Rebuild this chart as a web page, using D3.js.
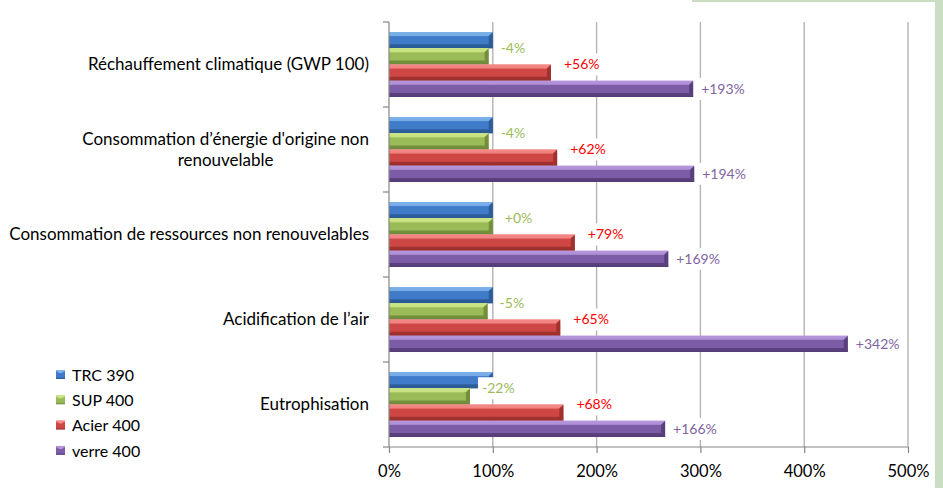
<!DOCTYPE html>
<html><head><meta charset="utf-8">
<script src="https://cdn.jsdelivr.net/npm/d3@7"></script>
<style>
html,body{margin:0;padding:0;background:#fff;}
svg{display:block;font-family:Lato,"Noto Sans",sans-serif;}
</style></head>
<body>
<svg id="chart" width="943" height="488"></svg>
<script>
const categories = [
  ["Réchauffement climatique (GWP 100)"],
  ["Consommation d’énergie d'origine non", "renouvelable"],
  ["Consommation de ressources non renouvelables"],
  ["Acidification de l’air"],
  ["Eutrophisation"]
];
const seriesNames = ["TRC 390", "SUP 400", "Acier 400", "verre 400"];
const trc390 = [100, 100, 100, 100, 100];
const sup400 = [96, 96, 100, 95, 78];
const acier400 = [156, 162, 179, 165, 168];
const verre400 = [293, 294, 269, 442, 266];
const tickValues = [0, 100, 200, 300, 400, 500];

const seriesValues = [trc390, sup400, acier400, verre400];
const palette = [
  {base:"#3f7bc8", light:"#7db2ea", dark:"#2a5a95", label:null},
  {base:"#9bbb59", light:"#cbe584", dark:"#6f8a38", label:"#9bbb59"},
  {base:"#cf4744", light:"#f48886", dark:"#9a2f2d", label:"#ff0000"},
  {base:"#7c5ca6", light:"#b596dc", dark:"#553d78", label:"#8064a2"}
];

const svg = d3.select("#chart");
const W = 943, H = 488;
const m = {left:389, right:908, top:22, bottom:447};

// green frame
svg.append("rect").attr("x",692).attr("y",0).attr("width",W-692).attr("height",2).attr("fill","#cadec3");
svg.append("rect").attr("x",935).attr("y",0).attr("width",8).attr("height",H).attr("fill","#cadec3");

const x = d3.scaleLinear().domain([0,500]).range([m.left, m.right]);
const y = d3.scaleBand().domain(d3.range(categories.length)).range([m.top, m.bottom])
  .paddingInner(0.235).paddingOuter(0.1175);
const ys = d3.scaleBand().domain(d3.range(seriesNames.length)).range([0, y.bandwidth()]);

// gradients
const defs = svg.append("defs");
palette.forEach((p,i)=>{
  const g = defs.append("linearGradient").attr("id","g"+i).attr("x1",0).attr("y1",0).attr("x2",0).attr("y2",1);
  g.append("stop").attr("offset","0%").attr("stop-color",p.light);
  g.append("stop").attr("offset","30%").attr("stop-color",p.base);
  g.append("stop").attr("offset","75%").attr("stop-color",p.base);
  g.append("stop").attr("offset","100%").attr("stop-color",p.dark);
});

// gridlines
svg.append("g").selectAll("line").data(tickValues.filter(t=>t>0)).join("line")
  .attr("x1",d=>x(d)).attr("x2",d=>x(d)).attr("y1",m.top).attr("y2",m.bottom)
  .attr("stroke","#b4b4b4").attr("stroke-width",1.4);

// bars
function bevelBar(g, x0, x1, y0, y1, p, i){
  const b = Math.min(4, (x1-x0)/2);
  g.append("rect").attr("x",x0).attr("y",y0).attr("width",x1-x0).attr("height",y1-y0).attr("fill","url(#g"+i+")");
  g.append("path").attr("d",`M${x0},${y0}L${x1},${y0}L${x1-b},${y0+b}L${x0},${y0+b}Z`).attr("fill",p.light).attr("opacity",0.85);
  g.append("path").attr("d",`M${x0},${y1}L${x1},${y1}L${x1-b},${y1-b}L${x0},${y1-b}Z`).attr("fill",p.dark).attr("opacity",0.85);
  g.append("path").attr("d",`M${x1},${y0}L${x1},${y1}L${x1-b},${y1-b}L${x1-b},${y0+b}Z`).attr("fill",p.dark).attr("opacity",0.9);
}
const barsG = svg.append("g");
categories.forEach((c,ci)=>{
  seriesValues.forEach((vals,si)=>{
    const y0 = y(ci)+ys(si), y1 = y0+ys.bandwidth();
    bevelBar(barsG, x(0), x(vals[ci]), y0, y1, palette[si], si);
  });
});

// axes
const axisColor = "#868686";
svg.append("line").attr("x1",m.left).attr("x2",m.left).attr("y1",m.top).attr("y2",m.bottom).attr("stroke",axisColor).attr("stroke-width",1.2);
svg.append("line").attr("x1",m.left).attr("x2",m.right).attr("y1",m.bottom).attr("y2",m.bottom).attr("stroke",axisColor).attr("stroke-width",1.2);
const catEdges = d3.range(categories.length+1).map(i=>m.top + i*y.step());
svg.append("g").selectAll("line").data(catEdges).join("line")
  .attr("x1",m.left-6).attr("x2",m.left).attr("y1",d=>d).attr("y2",d=>d).attr("stroke",axisColor).attr("stroke-width",1.2);
const xAxis = d3.axisBottom(x).tickValues(tickValues).tickFormat(d=>d+"%").tickSize(6).tickPadding(12);
const xa = svg.append("g").attr("transform",`translate(0,${m.bottom})`).call(xAxis);
xa.select(".domain").remove();
xa.selectAll(".tick line").attr("stroke",axisColor).attr("stroke-width",1.2);
xa.selectAll(".tick text").attr("fill","#000").style("font-size","16.5px").style("font-family","Lato");

// category labels
const catG = svg.append("g");
categories.forEach((lines,ci)=>{
  const cy = y(ci)+y.bandwidth()/2;
  const lh = 21;
  const tg = catG.append("g");
  const texts = lines.map((l,li)=> tg.append("text").text(l)
    .attr("y", cy + (li-(lines.length-1)/2)*lh).attr("dy","0.35em")
    .style("font-size","17px").attr("fill","#000"));
  const maxW = d3.max(texts, t=>t.node().getComputedTextLength());
  const cx = 369 - maxW/2;
  texts.forEach(t=>t.attr("x",cx).attr("text-anchor","middle"));
});

// data labels
const labelG = svg.append("g");
const lblDx = [0, 12, 13, 8];
const lblDy = [0, 0, 0, 0.5];
categories.forEach((c,ci)=>{
  [1,2,3].forEach(si=>{
    const v = seriesValues[si][ci];
    const d = v-100;
    const txt = (d>=0?"+":"-")+Math.abs(d)+"%";
    const y0 = y(ci)+ys(si);
    const ly = y0 + lblDy[si]*ys.bandwidth();
    const lx = x(v)+lblDx[si];
    const g = labelG.append("g");
    const bg = g.append("rect").attr("fill","#fff");
    const t = g.append("text").text(txt).attr("x",lx).attr("y",ly).attr("dy","0.35em")
      .style("font-size","14px").attr("fill",palette[si].label);
    const w = t.node().getComputedTextLength();
    bg.attr("x",lx-4).attr("y",ly-11).attr("width",w+8).attr("height",22);
  });
});

// legend
const lg = svg.append("g");
seriesNames.forEach((n,i)=>{
  const cy = 375 + i*25.3;
  const p = palette[i];
  lg.append("rect").attr("x",56).attr("y",cy-5).attr("width",9).attr("height",9).attr("fill","url(#g"+i+")");
  lg.append("path").attr("d",`M56,${cy-5}L65,${cy-5}L62,${cy-2}L59,${cy-2}Z`).attr("fill",p.light);
  lg.append("text").text(n).attr("x",72).attr("y",cy).attr("dy","0.35em").style("font-size","16px").attr("fill","#000");
});
</script>
</body></html>
